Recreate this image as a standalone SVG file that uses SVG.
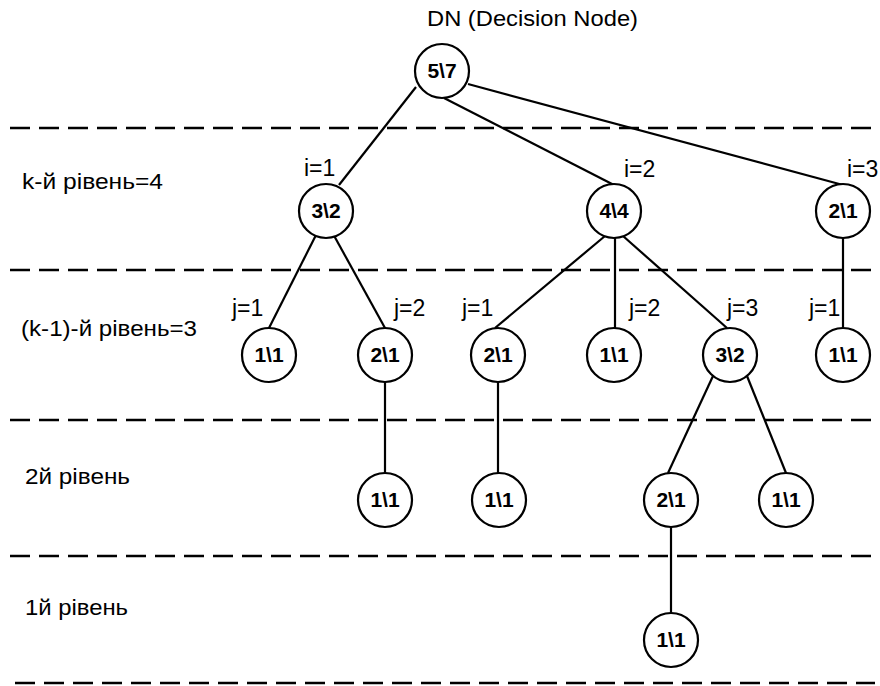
<svg xmlns="http://www.w3.org/2000/svg" width="880" height="686" viewBox="0 0 880 686">
<style>
.bg{fill:#ffffff}
.lvl{stroke:#000;stroke-width:2.3;stroke-dasharray:20 9;fill:none}
.edge{stroke:#000;stroke-width:2.2;fill:none}
.node circle{fill:#ffffff;stroke:#000;stroke-width:2.2}
.node text{font-family:"Liberation Sans",Arial,sans-serif;font-weight:bold;font-size:21px;text-anchor:middle;fill:#000}
.lbl{font-family:"Liberation Sans",Arial,sans-serif;font-size:23px;fill:#000}
.lv{font-family:"Liberation Sans",Arial,sans-serif;font-size:22px;fill:#000}
</style>
<rect class="bg" x="0" y="0" width="880" height="686"/>
<g id="levels">
<line class="lvl" x1="10" y1="128" x2="875" y2="128"/>
<line class="lvl" x1="10" y1="270" x2="875" y2="270"/>
<line class="lvl" x1="10" y1="420" x2="875" y2="420"/>
<line class="lvl" x1="10" y1="556" x2="875" y2="556"/>
<line class="lvl" x1="15" y1="683" x2="875" y2="683"/>
</g>
<g id="level-labels">
<text class="lv" x="22" y="189" textLength="141" lengthAdjust="spacingAndGlyphs">k-й рівень=4</text>
<text class="lv" x="21" y="336" textLength="176" lengthAdjust="spacingAndGlyphs">(k-1)-й рівень=3</text>
<text class="lv" x="25" y="484" textLength="105" lengthAdjust="spacingAndGlyphs">2й рівень</text>
<text class="lv" x="25" y="615" textLength="103" lengthAdjust="spacingAndGlyphs">1й рівень</text>
</g>
<g id="title">
<text class="lv" x="427" y="26" textLength="211" lengthAdjust="spacingAndGlyphs">DN (Decision Node)</text>
</g>
<g id="connectors">
<line class="edge" x1="416" y1="87" x2="339" y2="185"/>
<line class="edge" x1="444" y1="98" x2="614" y2="185"/>
<line class="edge" x1="468" y1="84" x2="843" y2="185"/>
<line class="edge" x1="315.5" y1="236" x2="269" y2="328"/>
<line class="edge" x1="334.5" y1="236.5" x2="385" y2="328"/>
<line class="edge" x1="605" y1="236" x2="495" y2="328"/>
<line class="edge" x1="615" y1="238" x2="615" y2="328"/>
<line class="edge" x1="623" y1="236" x2="727" y2="328"/>
<line class="edge" x1="843" y1="238" x2="843" y2="328"/>
<line class="edge" x1="385" y1="382" x2="385" y2="473"/>
<line class="edge" x1="498" y1="382" x2="498" y2="473"/>
<line class="edge" x1="713" y1="376" x2="668" y2="473"/>
<line class="edge" x1="747" y1="376" x2="786" y2="473"/>
<line class="edge" x1="671" y1="527" x2="671" y2="613"/>
</g>
<g id="edge-labels">
<text class="lbl" x="304" y="176">i=1</text>
<text class="lbl" x="624" y="177">i=2</text>
<text class="lbl" x="847" y="177">i=3</text>
<text class="lbl" x="232" y="316">j=1</text>
<text class="lbl" x="394" y="316">j=2</text>
<text class="lbl" x="462" y="316">j=1</text>
<text class="lbl" x="629" y="316">j=2</text>
<text class="lbl" x="727" y="316">j=3</text>
<text class="lbl" x="809" y="316">j=1</text>
</g>
<g id="n-root" class="node"><circle cx="442" cy="71" r="27"/><text x="442" y="78">5\7</text></g>
<g id="n-i1" class="node"><circle cx="326" cy="211" r="27"/><text x="326" y="218">3\2</text></g>
<g id="n-i2" class="node"><circle cx="614" cy="211" r="27"/><text x="614" y="218">4\4</text></g>
<g id="n-i3" class="node"><circle cx="843" cy="211" r="27"/><text x="843" y="218">2\1</text></g>
<g id="n-i1j1" class="node"><circle cx="269" cy="355" r="27"/><text x="269" y="362">1\1</text></g>
<g id="n-i1j2" class="node"><circle cx="385" cy="355" r="27"/><text x="385" y="362">2\1</text></g>
<g id="n-i2j1" class="node"><circle cx="498" cy="355" r="27"/><text x="498" y="362">2\1</text></g>
<g id="n-i2j2" class="node"><circle cx="614" cy="355" r="27"/><text x="614" y="362">1\1</text></g>
<g id="n-i2j3" class="node"><circle cx="730" cy="355" r="27"/><text x="730" y="362">3\2</text></g>
<g id="n-i3j1" class="node"><circle cx="843" cy="355" r="27"/><text x="843" y="362">1\1</text></g>
<g id="n-l2a" class="node"><circle cx="385" cy="500" r="27"/><text x="385" y="507">1\1</text></g>
<g id="n-l2b" class="node"><circle cx="499" cy="500" r="27"/><text x="499" y="507">1\1</text></g>
<g id="n-l2c" class="node"><circle cx="671" cy="500" r="27"/><text x="671" y="507">2\1</text></g>
<g id="n-l2d" class="node"><circle cx="786" cy="500" r="27"/><text x="786" y="507">1\1</text></g>
<g id="n-l1" class="node"><circle cx="671" cy="640" r="27"/><text x="671" y="647">1\1</text></g>
</svg>
